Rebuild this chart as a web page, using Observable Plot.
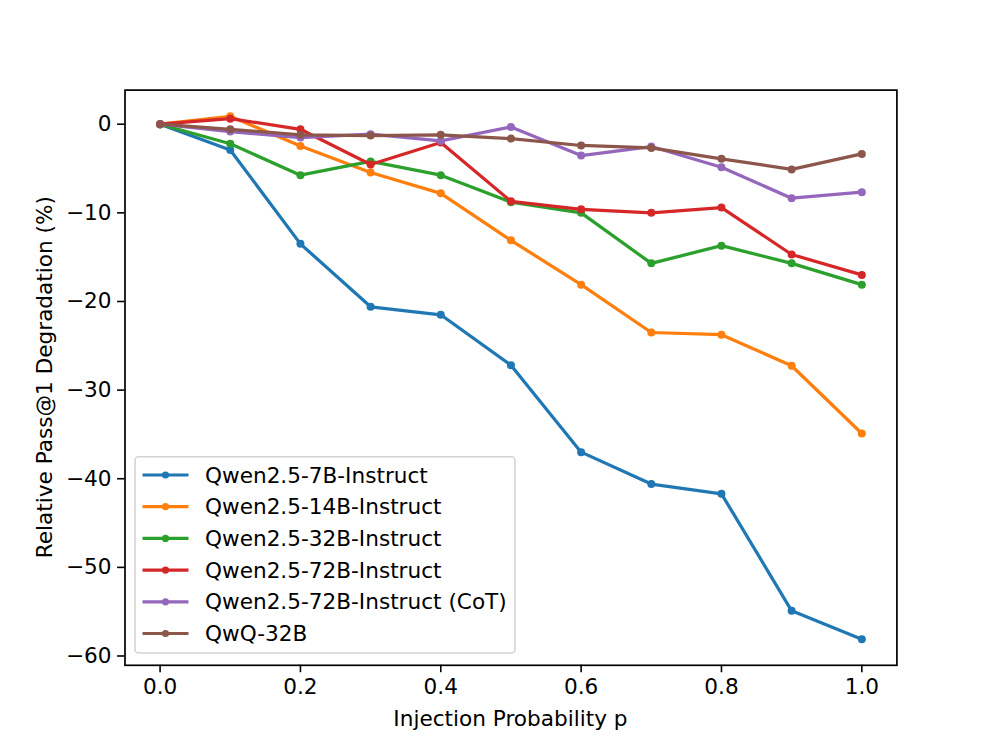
<!DOCTYPE html>
<html>
<head>
<meta charset="utf-8">
<script src="https://cdn.jsdelivr.net/npm/d3@7"></script>
<script src="https://cdn.jsdelivr.net/npm/@observablehq/plot@0.6"></script>
<style>
  html, body { margin: 0; padding: 0; background: #fff; }
  #chart svg { display: block; }
</style>
</head>
<body>
<div id="chart"></div>
<script>
const probs = [0.0, 0.1, 0.2, 0.3, 0.4, 0.5, 0.6, 0.7, 0.8, 0.9, 1.0];
const seriesNames = [
  "Qwen2.5-7B-Instruct",
  "Qwen2.5-14B-Instruct",
  "Qwen2.5-32B-Instruct",
  "Qwen2.5-72B-Instruct",
  "Qwen2.5-72B-Instruct (CoT)",
  "QwQ-32B"
];
const qwen7b   = [0, -2.9, -13.5, -20.6, -21.5, -27.2, -37.0, -40.6, -41.7, -54.9, -58.1];
const qwen14b  = [0, 0.9, -2.45, -5.45, -7.8, -13.1, -18.1, -23.5, -23.75, -27.25, -34.9];
const qwen32b  = [0, -2.2, -5.75, -4.2, -5.75, -8.8, -10.0, -15.7, -13.7, -15.7, -18.1];
const qwen72b  = [0, 0.63, -0.57, -4.55, -2.07, -8.7, -9.6, -10.0, -9.4, -14.7, -17.0];
const qwen72bCot = [0, -0.83, -1.5, -1.13, -1.88, -0.3, -3.54, -2.52, -4.85, -8.35, -7.67];
const qwq32b   = [0, -0.57, -1.2, -1.28, -1.2, -1.62, -2.4, -2.67, -3.9, -5.1, -3.35];
const seriesValues = [qwen7b, qwen14b, qwen32b, qwen72b, qwen72bCot, qwq32b];
const colors = ["#1f77b4", "#ff7f0e", "#2ca02c", "#d62728", "#9467bd", "#8c564b"];
const xTicks = [0.0, 0.2, 0.4, 0.6, 0.8, 1.0];
const yTicks = [0, -10, -20, -30, -40, -50, -60];
const xLabel = "Injection Probability p";
const yLabel = "Relative Pass@1 Degradation (%)";

const W = 996, H = 747;
const mL = 124.5, mR = 99.6, mT = 89.6, mB = 82.2;
const font = "DejaVu Sans, sans-serif";
const fs = 21.6;

const marks = [];
seriesNames.forEach((name, i) => {
  const data = probs.map((p, j) => ({p, v: seriesValues[i][j], name}));
  marks.push(Plot.line(data, {x: "p", y: "v", stroke: colors[i], strokeWidth: 3.24, strokeLinejoin: "round", strokeLinecap: "butt"}));
  marks.push(Plot.dot(data, {x: "p", y: "v", fill: colors[i], r: 4, stroke: "none"}));
});

const minus = s => String(s).replace("-", "\u2212");

const chart = Plot.plot({
  width: W, height: H,
  marginLeft: mL, marginRight: mR, marginTop: mT, marginBottom: mB,
  style: {fontFamily: font, fontSize: fs + "px", color: "#000", background: "#fff"},
  x: {domain: [-0.05, 1.05], label: null},
  y: {domain: [-61.05, 3.85], label: null},
  marks: [
    ...marks,
    Plot.axisX({ticks: xTicks, tickSize: 7.4, tickPadding: 6, tickFormat: d => d.toFixed(1), fontSize: fs, label: null, strokeWidth: 1.6}),
    Plot.axisY({ticks: yTicks, tickSize: 7.4, tickPadding: 6, tickFormat: d => minus(d), fontSize: fs, label: null, strokeWidth: 1.6}),
    Plot.frame({stroke: "#000", strokeWidth: 1.7})
  ]
});

document.getElementById("chart").appendChild(chart);

const svg = d3.select(chart);
// axis labels
svg.append("text")
  .attr("x", mL + (W - mL - mR) / 2)
  .attr("y", 718)
  .attr("text-anchor", "middle")
  .attr("dominant-baseline", "central")
  .attr("font-family", font)
  .attr("font-size", fs)
  .attr("fill", "#000")
  .text(xLabel);
svg.append("text")
  .attr("transform", `translate(44, ${mT + (H - mT - mB) / 2}) rotate(-90)`)
  .attr("text-anchor", "middle")
  .attr("dominant-baseline", "central")
  .attr("font-family", font)
  .attr("font-size", fs)
  .attr("fill", "#000")
  .text(yLabel);

// legend
const lg = svg.append("g");
lg.append("rect")
  .attr("x", 135).attr("y", 456.7)
  .attr("width", 380).attr("height", 196.3)
  .attr("rx", 3.5).attr("ry", 3.5)
  .attr("fill", "#fff").attr("fill-opacity", 0.8)
  .attr("stroke", "#d4d4d4").attr("stroke-width", 1.6);
seriesNames.forEach((name, i) => {
  const cy = 475 + i * 31.7;
  lg.append("line")
    .attr("x1", 142.5).attr("x2", 188.5)
    .attr("y1", cy).attr("y2", cy)
    .attr("stroke", colors[i]).attr("stroke-width", 3.24);
  lg.append("circle")
    .attr("cx", 165.5).attr("cy", cy).attr("r", 3.6)
    .attr("fill", colors[i]);
  lg.append("text")
    .attr("x", 205).attr("y", cy)
    .attr("text-anchor", "start")
    .attr("dominant-baseline", "central")
    .attr("font-family", font)
    .attr("font-size", fs)
    .attr("fill", "#000")
    .text(name);
});
</script>
</body>
</html>
